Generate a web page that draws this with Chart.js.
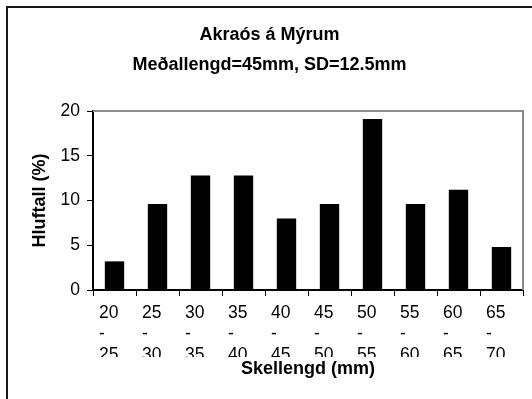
<!DOCTYPE html>
<html>
<head>
<meta charset="utf-8">
<script src="https://cdn.jsdelivr.net/npm/chart.js@4/dist/chart.umd.min.js"></script>
<style>
  html, body { margin: 0; padding: 0; background: #fff; }
  #wrap { width: 532px; height: 399px; }
</style>
</head>
<body>
<div id="wrap"><canvas id="c" width="532" height="399"></canvas></div>
<script>
// Shell length classes (mm) and share of shells in each class (%)
const categories = ['20 - 25', '25 - 30', '30 - 35', '35 - 40', '40 - 45',
                    '45 - 50', '50 - 55', '55 - 60', '60 - 65', '65 - 70'];
const shares = [3.2, 9.6, 12.8, 12.8, 8.0, 9.6, 19.1, 9.6, 11.2, 4.8];
const yTicks = [0, 5, 10, 15, 20];
const titleLines = ['Akraós á Mýrum', 'Meðallengd=45mm, SD=12.5mm'];
const xTitle = 'Skellengd (mm)';
const yTitle = 'Hluftall (%)';

const FONT = "'Liberation Sans', Arial, sans-serif";

// Outer frame, plot box edges and clipping of the wrapped class labels
const framePlugin = {
  id: 'frame',
  beforeDraw(chart) {
    const ctx = chart.ctx;
    ctx.save();
    ctx.fillStyle = '#fff';
    ctx.fillRect(0, 0, chart.width, chart.height);
    ctx.fillStyle = '#1a1a1a';
    ctx.fillRect(6, 6, 2, chart.height - 6);
    ctx.fillRect(6, 6, chart.width - 6, 2);
    ctx.restore();

    const xs = chart.scales.x;
    if (!xs._clipInstalled) {
      const orig = xs.drawLabels;
      xs.drawLabels = function (area) {
        const c = this.ctx;
        c.save();
        c.beginPath();
        c.rect(0, 0, this.chart.width, this.top + 67);
        c.clip();
        orig.call(this, area);
        c.restore();
      };
      xs._clipInstalled = true;
    }
  },
  beforeDatasetsDraw(chart) {
    const { ctx, chartArea: a } = chart;
    ctx.save();
    ctx.strokeStyle = '#8c8c8c';
    ctx.lineWidth = 2;
    ctx.beginPath();
    ctx.moveTo(a.left, a.top);
    ctx.lineTo(a.right, a.top);
    ctx.lineTo(a.right, a.bottom);
    ctx.stroke();
    ctx.restore();
  }
};

new Chart(document.getElementById('c'), {
  type: 'bar',
  data: {
    labels: categories,
    datasets: [{
      data: shares,
      backgroundColor: '#000',
      borderWidth: 0,
      barPercentage: 0.45,
      categoryPercentage: 1
    }]
  },
  options: {
    responsive: false,
    animation: false,
    devicePixelRatio: 1,
    layout: { padding: { left: 16, right: 9, top: 0, bottom: 0 } },
    plugins: {
      legend: { display: false },
      tooltip: { enabled: false },
      title: {
        display: true,
        text: titleLines,
        color: '#000',
        font: { family: FONT, size: 18, weight: 'bold', lineHeight: 1.667 },
        padding: { top: 20, bottom: 31 }
      }
    },
    scales: {
      x: {
        offset: true,
        afterFit(s) { s.height = 109; },
        grid: { drawOnChartArea: false, drawTicks: true, tickLength: 6, color: '#000', lineWidth: 1, offset: true },
        border: { display: true, color: '#000', width: 2 },
        ticks: {
          color: '#000',
          font: { family: FONT, size: 17.5, lineHeight: 1.2 },
          maxRotation: 0,
          autoSkip: false,
          align: 'start',
          labelOffset: -15.5,
          padding: 7,
          callback(v, i) { return categories[i].split(' '); }
        },
        title: {
          display: true,
          text: xTitle,
          color: '#000',
          font: { family: FONT, size: 18, weight: 'bold' },
          padding: { top: 0, bottom: 19 }
        }
      },
      y: {
        min: 0,
        max: 20,
        afterFit(s) { s.width = 77; },
        afterBuildTicks(s) { s.ticks = yTicks.map(v => ({ value: v })); },
        grid: { drawOnChartArea: false, drawTicks: true, tickLength: 6, color: '#000', lineWidth: 1 },
        border: { display: true, color: '#000', width: 2 },
        ticks: {
          color: '#000',
          font: { family: FONT, size: 17.5 },
          padding: 7
        },
        title: {
          display: true,
          text: yTitle,
          color: '#000',
          font: { family: FONT, size: 18, weight: 'bold' },
          padding: { top: 13, bottom: 0 }
        }
      }
    }
  },
  plugins: [framePlugin]
});
</script>
</body>
</html>
